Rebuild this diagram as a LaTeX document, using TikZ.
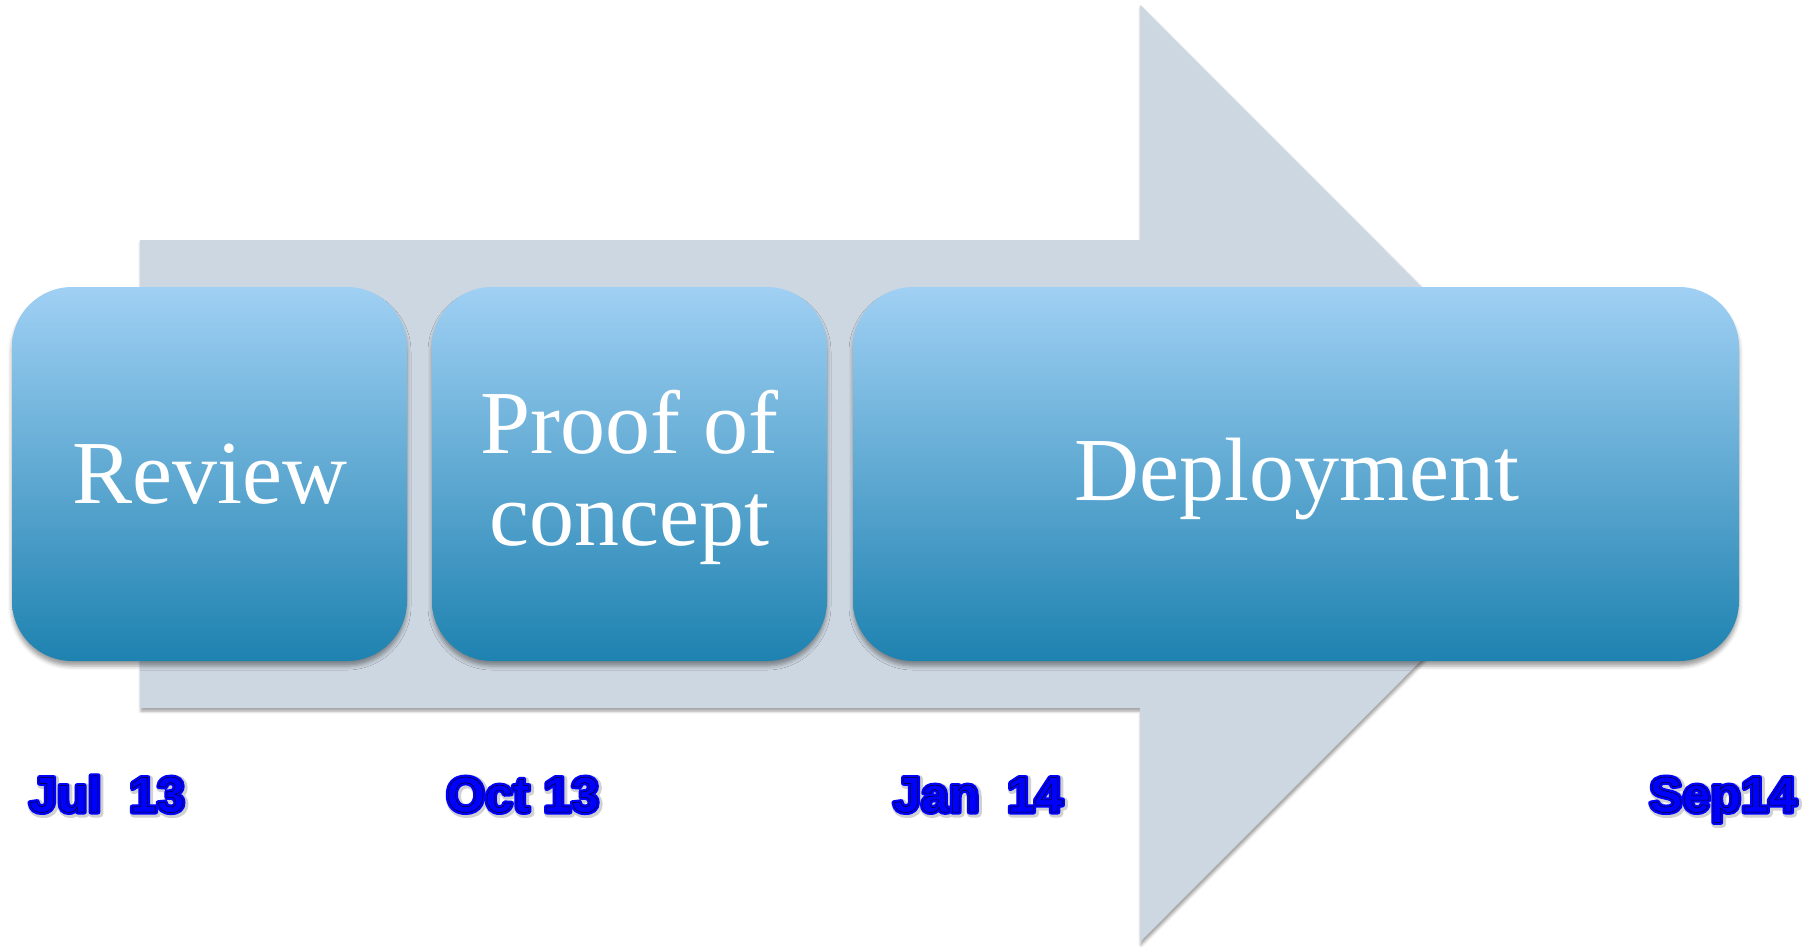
\documentclass[tikz,border=0pt]{standalone}
\usepackage{fontspec}
\setmainfont{Liberation Serif}
\newfontfamily\datefont{Liberation Sans}
\usetikzlibrary{shadows.blur}
\definecolor{arrowgray}{RGB}{205,215,225}
\definecolor{boxtop}{RGB}{160,208,244}
\definecolor{boxmid}{RGB}{122,180,220}
\definecolor{boxbot}{RGB}{30,130,176}
\definecolor{dateblue}{RGB}{0,0,255}
\definecolor{dateshadow}{RGB}{210,210,210}
% #1 = stroke colour (r g b), #2 = line width, #3 = text
\newcommand\strokefill[3]{\special{pdf:literal direct #1 RG 2 Tr 1 j #2 w}#3\special{pdf:literal direct 0 Tr 0 j 1 w}}
\newcommand\strokeonly[3]{\special{pdf:literal direct #1 RG 1 Tr 1 j #2 w}#3\special{pdf:literal direct 0 Tr 0 j 1 w}}
\tikzset{
  stage/.style={rounded corners=60pt, top color=boxtop, middle color=boxmid, bottom color=boxbot,
    inner sep=0pt,
    blur shadow={shadow xshift=0pt, shadow yshift=-5pt, shadow blur radius=4pt, shadow opacity=38}},
  stagetext/.style={text=white, align=center, inner sep=0pt, font=\fontsize{90}{92}\selectfont},
  datel/.style={anchor=base west, inner sep=0pt, font=\datefont\bfseries\fontsize{50}{50}\selectfont},
  bigarrow/.style={fill=arrowgray, blur shadow={shadow xshift=1pt, shadow yshift=-3pt, shadow blur radius=3pt, shadow opacity=40}}
}
\newcommand\datelabel[3]{%
  \node[datel, text=dateshadow] (#1-sh) at ([shift={(1.5,1.5)}]#2) {\strokefill{0.82 0.82 0.82}{8}{#3}};
  \node[datel, text=dateblue] (#1-bl) at (#2) {\strokefill{0 0 1}{5}{#3}};
  \node[datel, text=dateblue] (#1) at (#2) {\strokeonly{0 0 0.1}{0.5}{#3}};
}
\begin{document}
\begin{tikzpicture}[x=1pt, y=-1pt]
\useasboundingbox (0,0) rectangle (1812,946);
% background arrow
\coordinate (a1) at (140,240);
\coordinate (a2) at (1140,240);
\coordinate (a3) at (1140,5);
\coordinate (a4) at (1608,473.5);
\coordinate (a5) at (1140,942);
\coordinate (a6) at (1140,708);
\coordinate (a7) at (140,708);
\path[bigarrow] (a1) -- (a2) -- (a3) -- (a4) -- (a5) -- (a6) -- (a7) -- cycle;
% stage boxes
\node[stage, minimum width=395pt, minimum height=374pt] (review) at (209.5,474) {};
\node[stage, minimum width=395pt, minimum height=374pt] (proof) at (629.5,474) {};
\node[stage, minimum width=886pt, minimum height=374pt] (deploy) at (1296,474) {};
\node[stagetext, anchor=base] (review-t) at (209.5,503) {Review};
\node[stagetext] (proof-t) at (629.5,477.5) {Proof of\\concept};
\node[stagetext, anchor=base] (deploy-t) at (1296.5,500) {Deployment};
% date labels
\datelabel{jul}{29,812}{Jul\ \ 13}
\datelabel{oct}{446,812}{Oct 13}
\datelabel{jan}{893,812}{Jan\ \ 14}
\datelabel{sep}{1649,812}{Sep14}
\end{tikzpicture}
\end{document}
